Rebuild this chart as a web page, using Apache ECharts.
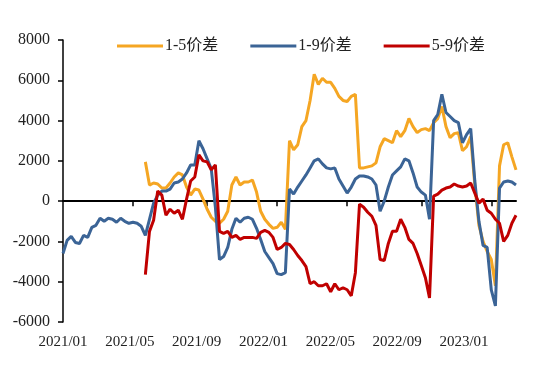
<!DOCTYPE html>
<html>
<head>
<meta charset="utf-8">
<script src="https://cdn.jsdelivr.net/npm/echarts@6/dist/echarts.min.js"></script>
<style>html,body{margin:0;padding:0;background:#fff;}#c{width:550px;height:375px;}</style>
</head>
<body>
<div id="c"></div>
<script>
// Weekly observations starting 2021-01-04 (111 weeks)
const startDate = '2021-01-04';
const weekCount = 111;
const xLabels = ['2021/01','2021/05','2021/09','2022/01','2022/05','2022/09','2023/01'];
const seriesNames = ['1-5价差','1-9价差','5-9价差'];

const spread15 = [
  null,null,null,null,null,null,null,null,null,null,
  null,null,null,null,null,null,null,null,null,null,
  1950,800,900,850,650,650,900,1200,1400,1300,
  700,300,600,550,100,-400,-800,-1000,-1100,-900,
  -500,800,1200,800,950,950,1050,450,-500,-900,
  -1150,-1350,-1300,-1050,-1400,3000,2550,2800,3700,4000,
  5000,6300,5800,6100,5900,5900,5600,5200,5000,4950,
  5200,5300,1650,1650,1700,1750,1900,2700,3100,3000,
  2900,3500,3200,3500,4100,3700,3400,3550,3600,3500,
  3900,4100,4700,3700,3150,3350,3400,2500,2700,3200,
  800,-1200,-2000,-2500,-2900,-4200,1750,2800,2900,2200,
  1550
];
const spread19 = [
  -2600,-1950,-1750,-2050,-2100,-1700,-1800,-1300,-1200,-850,
  -1000,-850,-900,-1050,-850,-1000,-1100,-1050,-1100,-1250,
  -1700,-900,-100,300,500,500,600,900,950,1100,
  1400,1800,1800,3000,2600,2100,1600,-300,-2900,-2750,
  -2300,-1400,-850,-1050,-850,-800,-900,-1350,-1900,-2500,
  -2800,-3100,-3600,-3650,-3550,600,350,700,1000,1300,
  1650,2000,2100,1850,1650,1600,1650,1100,750,400,
  700,1100,1250,1250,1200,1100,800,-500,0,700,
  1300,1500,1700,2100,2000,1400,700,450,300,-900,
  4000,4300,5300,4400,4200,4000,3900,2900,3300,3600,
  1000,-1000,-2200,-2300,-4400,-5200,650,950,1000,950,
  800
];
const spread59 = [
  null,null,null,null,null,null,null,null,null,null,
  null,null,null,null,null,null,null,null,null,null,
  -3650,-1500,-950,500,300,-700,-400,-600,-450,-900,
  100,1000,1200,2300,2000,1950,1550,1800,-1500,-1600,
  -1500,-1800,-1700,-1900,-1800,-1800,-1800,-1850,-1550,-1450,
  -1550,-1800,-2400,-2300,-2100,-2150,-2400,-2700,-2950,-3250,
  -4100,-4000,-4200,-4200,-4100,-4500,-4100,-4400,-4300,-4400,
  -4700,-3550,-150,-300,-550,-750,-1200,-2900,-2950,-2100,
  -1500,-1500,-900,-1300,-1900,-2100,-2600,-3200,-3800,-4800,
  250,350,550,650,700,850,750,700,750,900,
  400,-100,100,-450,-600,-900,-1100,-2000,-1700,-1100,
  -700
];

// build weekly category dates
const dates = [];
{
  const d0 = new Date(startDate + 'T00:00:00Z');
  for (let i = 0; i < weekCount; i++) {
    const d = new Date(d0.getTime() + i * 7 * 86400000);
    const m = d.getUTCMonth() + 1, day = d.getUTCDate();
    dates.push(d.getUTCFullYear() + '/' + (m < 10 ? '0' + m : m) + '/' + (day < 10 ? '0' + day : day));
  }
}
// tick at first week of Jan / May / Sep
const tickIdx = new Set();
{
  let lastKey = '';
  dates.forEach((s, i) => {
    const m = +s.slice(5, 7);
    const key = s.slice(0, 7);
    if ((m === 1 || m === 5 || m === 9) && key !== lastKey && i > 0) tickIdx.add(i);
    lastKey = key;
  });
}

const colors = ['#F5A623', '#3B6496', '#C00000'];
const serif = '"Liberation Serif", "Times New Roman", "Noto Sans CJK SC", serif';

const chart = echarts.init(document.getElementById('c'));
chart.setOption({
  animation: false,
  backgroundColor: '#fff',
  color: colors,
  grid: { left: 63, right: 34, top: 40, bottom: 53, containLabel: false },
  legend: {
    top: 33,
    left: 112,
    itemWidth: 46,
    itemHeight: 3,
    itemGap: 32,
    icon: 'rect',
    textStyle: { fontFamily: serif, fontSize: 16, color: '#222', padding: [0, 0, 0, -3] },
    data: seriesNames
  },
  xAxis: [
    {
      type: 'category',
      data: dates,
      boundaryGap: false,
      axisLine: { onZero: true, lineStyle: { color: '#000', width: 2 } },
      axisTick: { show: true, length: 5, interval: (i) => tickIdx.has(i), lineStyle: { color: '#000', width: 1.5 } },
      axisLabel: { show: false },
      splitLine: { show: false }
    },
    {
      type: 'value',
      position: 'bottom',
      min: 0,
      max: 6.778,
      interval: 1,
      axisLine: { show: false, onZero: false },
      axisTick: { show: false },
      splitLine: { show: false },
      axisLabel: {
        margin: 13,
        fontFamily: serif,
        fontSize: 15,
        color: '#222',
        showMaxLabel: false,
        formatter: (v) => (Math.abs(v - Math.round(v)) < 1e-6 && xLabels[Math.round(v)]) ? xLabels[Math.round(v)] : ''
      }
    }
  ],
  yAxis: {
    type: 'value',
    min: -6000,
    max: 8000,
    interval: 2000,
    axisLine: { show: true, lineStyle: { color: '#000', width: 1.5 } },
    axisTick: { show: true, length: 5, lineStyle: { color: '#000', width: 1.5 } },
    splitLine: { show: false },
    axisLabel: { margin: 13, fontFamily: serif, fontSize: 16, color: '#222', formatter: (v) => String(v) }
  },
  series: [
    { name: seriesNames[0], type: 'line', data: spread15, xAxisIndex: 0, showSymbol: false, symbol: 'none', lineStyle: { width: 3, color: colors[0] }, itemStyle: { color: colors[0] } },
    { name: seriesNames[1], type: 'line', data: spread19, xAxisIndex: 0, showSymbol: false, symbol: 'none', lineStyle: { width: 3, color: colors[1] }, itemStyle: { color: colors[1] } },
    { name: seriesNames[2], type: 'line', data: spread59, xAxisIndex: 0, showSymbol: false, symbol: 'none', lineStyle: { width: 3, color: colors[2] }, itemStyle: { color: colors[2] } }
  ]
});
</script>
</body>
</html>
